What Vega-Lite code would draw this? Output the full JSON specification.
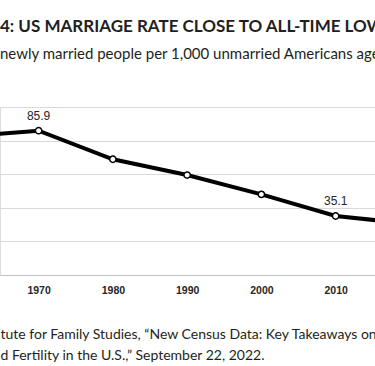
{
  "$schema": "https://vega.github.io/schema/vega-lite/v6.json",
  "autosize": {"type": "none"},
  "padding": {"left": 0, "top": 107, "right": 0, "bottom": 91},
  "width": 375,
  "height": 168,
  "background": "white",
  "title": {
    "text": "4: US MARRIAGE RATE CLOSE TO ALL-TIME LOW",
    "subtitle": "newly married people per 1,000 unmarried Americans ages 15+",
    "anchor": "start",
    "frame": "group",
    "offset": 44,
    "font": "Lato",
    "fontSize": 17,
    "fontWeight": "bold",
    "color": "#231f20",
    "subtitleFont": "Lato",
    "subtitleFontSize": 15,
    "subtitleColor": "#231f20",
    "subtitlePadding": 11
  },
  "data": {
    "values": [
      {"year": 1960, "rate": 82.5},
      {"year": 1970, "rate": 85.9},
      {"year": 1980, "rate": 68.9},
      {"year": 1990, "rate": 59.5},
      {"year": 2000, "rate": 48.0},
      {"year": 2010, "rate": 35.1},
      {"year": 2020, "rate": 30.5}
    ]
  },
  "encoding": {
    "x": {
      "field": "year",
      "type": "quantitative",
      "scale": {"domain": [1964.8, 2015.3], "nice": false, "zero": false},
      "axis": {
        "values": [1970, 1980, 1990, 2000, 2010],
        "format": "d",
        "grid": false,
        "ticks": false,
        "domainColor": "#bfbfbf",
        "domainWidth": 1.2,
        "labelFont": "Liberation Sans",
        "labelFontSize": 10.5,
        "labelFontWeight": "bold",
        "labelColor": "#262626",
        "labelPadding": 10,
        "title": ["tute for Family Studies, \u201cNew Census Data: Key Takeaways on Marriage,", "d Fertility in the U.S.,\u201d September 22, 2022."],
        "titleFont": "Lato",
        "titleFontSize": 14,
        "titleFontWeight": "normal",
        "titleColor": "#231f20",
        "titleAnchor": "start",
        "titleAlign": "left",
        "titleX": 0,
        "titleY": 63,
        "titleBaseline": "alphabetic",
        "titleLineHeight": 21
      }
    },
    "y": {
      "field": "rate",
      "type": "quantitative",
      "scale": {"domain": [0, 100], "nice": false},
      "axis": {
        "values": [20, 40, 60, 80, 100],
        "grid": true,
        "gridColor": "#d9d9d9",
        "gridWidth": 1,
        "domain": false,
        "ticks": false,
        "labels": false,
        "title": null
      }
    }
  },
  "layer": [
    {"mark": {"type": "line", "color": "black", "strokeWidth": 4, "clip": true}},
    {"mark": {"type": "point", "filled": true, "fill": "white", "stroke": "black", "strokeWidth": 1.5, "size": 40, "opacity": 1, "clip": true}},
    {
      "transform": [{"filter": {"field": "year", "oneOf": [1970, 2010]}}],
      "mark": {"type": "text", "dy": -15, "font": "Liberation Sans", "fontSize": 12, "color": "#262626", "clip": true},
      "encoding": {"text": {"field": "rate", "type": "quantitative", "format": ".1f"}}
    }
  ]
}
